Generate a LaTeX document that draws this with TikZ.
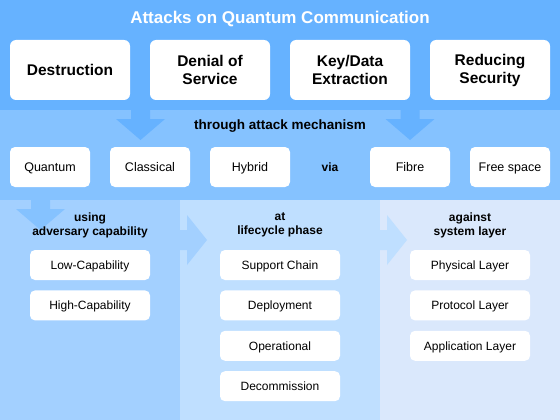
\documentclass[tikz,border=0pt]{standalone}
\usepackage{fontspec}
\setmainfont{Liberation Sans}
\usetikzlibrary{positioning}
\definecolor{qtop}{HTML}{66B2FF}
\definecolor{qmid}{HTML}{85C2FF}
\definecolor{qleft}{HTML}{A3D0FF}
\definecolor{qcentre}{HTML}{BFDFFF}
\definecolor{qright}{HTML}{DAE8FC}

\begin{document}
\begin{tikzpicture}[x=1pt, y=-1pt,
  bigbox/.style={fill=white, rounded corners=6pt, minimum width=120pt, minimum height=60pt, inner sep=0pt, align=center, font=\fontsize{15.5}{18}\selectfont\bfseries},
  midbox/.style={fill=white, rounded corners=5pt, minimum width=80pt, minimum height=40pt, inner sep=0pt, text height=9.5pt, text depth=1pt, font=\fontsize{12.5}{15}\selectfont},
  smallbox/.style={fill=white, rounded corners=5pt, minimum width=120pt, minimum height=30pt, inner sep=0pt, text height=9.5pt, text depth=1pt, font=\fontsize{12}{14}\selectfont},
  headtxt/.style={align=center, font=\fontsize{12}{14}\selectfont\bfseries}]
\useasboundingbox (0,0) rectangle (560,420);

% Bands
\fill[qtop] (0,0) rectangle (560,110);
\fill[qmid] (0,110) rectangle (560,200);
\fill[qleft] (0,200) rectangle (180,420);
\fill[qcentre] (180,200) rectangle (380,420);
\fill[qright] (380,200) rectangle (560,420);

% Arrows between bands
\foreach \ax in {140.5,410} {
  \fill[qtop] (\ax-9.5,109) -- (\ax-9.5,119) -- (\ax-24.5,119) -- (\ax,140) -- (\ax+24.5,119) -- (\ax+9.5,119) -- (\ax+9.5,109) -- cycle;
}
\fill[qmid] (31,199) -- (31,209) -- (16,209) -- (40.5,230) -- (65,209) -- (50,209) -- (50,199) -- cycle;
\fill[qleft] (179,230) -- (187,230) -- (187,215) -- (207,240) -- (187,265) -- (187,250) -- (179,250) -- cycle;
\fill[qcentre] (379,230) -- (387,230) -- (387,215) -- (407,240) -- (387,265) -- (387,250) -- (379,250) -- cycle;

% Title and attack goals
\node[text=white, font=\fontsize{17}{20}\selectfont\bfseries] (title) at (280,19) {Attacks on Quantum Communication};
\node[bigbox] (destr) at (70,70) {Destruction};
\node[bigbox] (dos) at (210,70) {Denial of\\Service};
\node[bigbox] (keyx) at (350,70) {Key/Data\\Extraction};
\node[bigbox] (redsec) at (490,70) {Reducing\\Security};

% Mechanism and medium
\node[font=\fontsize{13.5}{16}\selectfont\bfseries] (through) at (280,126) {through attack mechanism};
\node[midbox] (quantum) at (50,167) {Quantum};
\node[midbox] (classical) at (150,167) {Classical};
\node[midbox] (hybrid) at (250,167) {Hybrid};
\node[headtxt, text height=9.5pt, text depth=1pt] (via) at (330,167) {via};
\node[midbox] (fibre) at (410,167) {Fibre};
\node[midbox] (freesp) at (510,167) {Free space};

% Adversary capability
\node[headtxt] (using) at (90,225) {using\\adversary capability};
\node[smallbox] (low) at (90,265) {Low-Capability};
\node[smallbox, below=10pt of low] (high) {High-Capability};

% Lifecycle phase
\node[headtxt] (atphase) at (280,225) {at\\lifecycle phase};
\node[smallbox] (support) at (280,265) {Support Chain};
\node[smallbox, below=10pt of support] (deploy) {Deployment};
\node[smallbox, below=10pt of deploy] (operat) {Operational};
\node[smallbox, below=10pt of operat] (decomm) {Decommission};

% System layer
\node[headtxt] (against) at (470,225) {against\\system layer};
\node[smallbox] (phys) at (470,265) {Physical Layer};
\node[smallbox, below=10pt of phys] (proto) {Protocol Layer};
\node[smallbox, below=10pt of proto] (appl) {Application Layer};
\end{tikzpicture}
\end{document}
